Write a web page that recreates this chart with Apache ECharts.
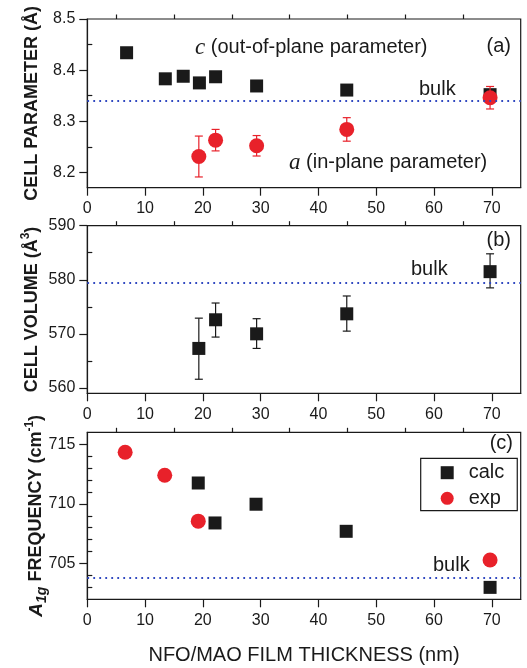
<!DOCTYPE html>
<html>
<head>
<meta charset="utf-8">
<script src="https://cdn.jsdelivr.net/npm/echarts@6/dist/echarts.min.js"></script>
<style>
  html, body { margin: 0; padding: 0; background: #fff; }
  #chart { width: 527px; height: 668px; }
</style>
</head>
<body>
<div id="chart"></div>
<script>
// ---------- data ----------
// panel (a): cell parameters
const cThickness = [6.8, 13.5, 16.6, 19.4, 22.2, 29.3, 44.9, 69.7];
const cParam = [8.434, 8.383, 8.388, 8.375, 8.387, 8.369, 8.361, 8.352];
const aThickness = [19.3, 22.2, 29.3, 44.9, 69.7];
const aParam = [8.231, 8.263, 8.252, 8.284, 8.346];
const aErr = [0.040, 0.021, 0.020, 0.023, 0.022];
const bulkParam = 8.341;
// panel (b): cell volume
const vThickness = [19.3, 22.2, 29.3, 44.9, 69.7];
const volume = [567.3, 572.6, 570.0, 573.7, 581.5];
const volumeLow = [561.6, 569.4, 567.3, 570.5, 578.5];
const volumeHigh = [572.9, 575.7, 572.8, 577.0, 584.8];
const bulkVolume = 579.5;
// panel (c): A1g frequency
const calcThickness = [19.2, 22.1, 29.2, 44.8, 69.7];
const calcFreq = [711.75, 708.4, 709.97, 707.7, 703.0];
const expThickness = [6.55, 13.4, 19.2, 69.7];
const expFreq = [714.33, 712.4, 708.55, 705.3];
const bulkFreq = 703.8;
// ticks
const xMajorTicks = [0, 10, 20, 30, 40, 50, 60, 70];
const xMinorTicks = [5, 15, 25, 35, 45, 55, 65];
const aMajorTicks = [8.2, 8.3, 8.4, 8.5];
const aMinorTicks = [8.25, 8.35, 8.45];
const bMajorTicks = [560, 570, 580, 590];
const bMinorTicks = [565, 575, 585];
const cMajorTicks = [705, 710, 715];
const cMinorTicks = [703, 704, 706, 707, 708, 709, 711, 712, 713, 714];

// ---------- style ----------
const FONT = "'Liberation Sans', Arial, sans-serif";
const SERIF = "'Liberation Serif', 'Times New Roman', serif";
const INK = '#1a1a1a';
const RED = '#e8212a';
const BLUE = '#3048c0';

const grids = [
  { left: 87.3, top: 19, width: 433.4, height: 168.7 },
  { left: 87.3, top: 225.7, width: 433.4, height: 167.6 },
  { left: 87.3, top: 432.3, width: 433.4, height: 167 }
].map(g => Object.assign({ show: true, borderColor: INK, borderWidth: 1.2, backgroundColor: 'transparent', outerBoundsMode: 'none', containLabel: false }, g));

function xAxes(gi, withName) {
  return [
    {
      type: 'value', gridIndex: gi, min: 0, max: 75,
      axisLine: { show: true, onZero: false, lineStyle: { color: INK, width: 1.2 } },
      axisTick: { show: true, inside: false, length: 8, customValues: xMajorTicks, lineStyle: { color: INK, width: 1.2 } },
      axisLabel: { show: true, margin: 13, customValues: xMajorTicks, color: INK, fontSize: 16, fontFamily: FONT },
      splitLine: { show: false },
      name: withName ? 'NFO/MAO FILM THICKNESS (nm)' : '',
      nameLocation: 'middle', nameGap: 46, nameMoveOverlap: false,
      nameTextStyle: { color: INK, fontSize: 20, fontFamily: FONT }
    },
    {
      type: 'value', gridIndex: gi, min: 0, max: 75,
      axisLine: { show: false },
      axisTick: { show: true, inside: false, length: 4.5, customValues: xMinorTicks, lineStyle: { color: INK, width: 1.2 } },
      axisLabel: { show: false },
      splitLine: { show: false }
    }
  ];
}

function yAxes(gi, min, max, major, minor, name, gap, rich) {
  return [
    {
      type: 'value', gridIndex: gi, min: min, max: max,
      axisLine: { show: true, onZero: false, lineStyle: { color: INK, width: 1.2 } },
      axisTick: { show: true, inside: false, length: 8, customValues: major, lineStyle: { color: INK, width: 1.2 } },
      axisLabel: { show: true, margin: 12, customValues: major, color: INK, fontSize: 16, fontFamily: FONT },
      splitLine: { show: false },
      name: name, nameLocation: 'middle', nameRotate: 90, nameGap: gap, nameMoveOverlap: false,
      nameTextStyle: { color: INK, fontSize: 18, fontWeight: 'bold', fontFamily: FONT, lineHeight: 26, rich: rich }
    },
    {
      type: 'value', gridIndex: gi, min: min, max: max,
      axisLine: { show: false },
      axisTick: { show: true, inside: false, length: 5, customValues: minor, lineStyle: { color: INK, width: 1.2 } },
      axisLabel: { show: false },
      splitLine: { show: false }
    }
  ];
}

const nameRich = {
  it: { fontStyle: 'italic', fontWeight: 'bold', fontSize: 19, fontFamily: FONT, color: INK, lineHeight: 26 },
  sub: { fontStyle: 'italic', fontWeight: 'bold', fontSize: 14, fontFamily: FONT, color: INK, lineHeight: 14, verticalAlign: 'bottom' },
  sup: { fontWeight: 'bold', fontSize: 12, fontFamily: FONT, color: INK, lineHeight: 12, verticalAlign: 'top' }
};

function errorBarSeries(xi, yi, xs, lows, highs, color) {
  return {
    type: 'custom', xAxisIndex: xi, yAxisIndex: yi, z: 3, silent: true,
    data: xs.map((x, i) => [x, lows[i], highs[i]]),
    renderItem: function (params, api) {
      const x = api.value(0);
      const lo = api.coord([x, api.value(1)]);
      const hi = api.coord([x, api.value(2)]);
      const w = 4;
      const st = { stroke: color, lineWidth: 1.2 };
      return {
        type: 'group',
        children: [
          { type: 'line', shape: { x1: lo[0], y1: lo[1], x2: hi[0], y2: hi[1] }, style: st },
          { type: 'line', shape: { x1: lo[0] - w, y1: lo[1], x2: lo[0] + w, y2: lo[1] }, style: st },
          { type: 'line', shape: { x1: hi[0] - w, y1: hi[1], x2: hi[0] + w, y2: hi[1] }, style: st }
        ]
      };
    }
  };
}

function bulkLine(value) {
  return {
    silent: true, symbol: 'none', animation: false,
    label: { show: false },
    lineStyle: { color: BLUE, width: 1.8, type: [1.8, 4.2], opacity: 1 },
    emphasis: { disabled: true },
    data: [{ yAxis: value }]
  };
}

const option = {
  animation: false,
  backgroundColor: '#fff',
  textStyle: { fontFamily: FONT },
  grid: grids,
  xAxis: [].concat(xAxes(0, false), xAxes(1, false), xAxes(2, true)),
  yAxis: [].concat(
    yAxes(0, 8.17, 8.5, aMajorTicks, aMinorTicks, 'CELL PARAMETER (Å)', 42, nameRich),
    yAxes(1, 559, 590, bMajorTicks, bMinorTicks, 'CELL VOLUME (Å{sup|3})', 42, nameRich),
    yAxes(2, 702, 716, cMajorTicks, cMinorTicks, '{it|A}{sub|1g} FREQUENCY (cm{sup|-1})', 38, nameRich)
  ),
  legend: {
    show: true, orient: 'vertical',
    left: 420.7, top: 458.3,
    data: [{ name: 'calc', icon: 'rect' }, { name: 'exp', icon: 'circle' }],
    itemWidth: 13, itemHeight: 13, itemGap: 5.6,
    padding: [4.4, 13, 2.4, 20],
    borderColor: INK, borderWidth: 1.2, borderRadius: 0,
    selectedMode: false,
    textStyle: { color: INK, fontSize: 20, fontFamily: FONT, lineHeight: 20, padding: [0, 0, 0, 10] }
  },
  series: [
    // panel (a)
    {
      name: 'c parameter', type: 'scatter', xAxisIndex: 0, yAxisIndex: 0, z: 2,
      symbol: 'rect', symbolSize: 13, itemStyle: { color: INK, opacity: 1 },
      data: cThickness.map((x, i) => [x, cParam[i]]),
      markLine: bulkLine(bulkParam)
    },
    errorBarSeries(0, 0, aThickness, aParam.map((v, i) => v - aErr[i]), aParam.map((v, i) => v + aErr[i]), RED),
    {
      name: 'a parameter', type: 'scatter', xAxisIndex: 0, yAxisIndex: 0, z: 4,
      symbol: 'circle', symbolSize: 15, itemStyle: { color: RED, opacity: 1 },
      data: aThickness.map((x, i) => [x, aParam[i]])
    },
    // panel (b)
    errorBarSeries(2, 2, vThickness, volumeLow, volumeHigh, INK),
    {
      name: 'volume', type: 'scatter', xAxisIndex: 2, yAxisIndex: 2, z: 4,
      symbol: 'rect', symbolSize: 13, itemStyle: { color: INK, opacity: 1 },
      data: vThickness.map((x, i) => [x, volume[i]]),
      markLine: bulkLine(bulkVolume)
    },
    // panel (c)
    {
      name: 'calc', type: 'scatter', xAxisIndex: 4, yAxisIndex: 4, z: 2,
      symbol: 'rect', symbolSize: 13, itemStyle: { color: INK, opacity: 1 },
      data: calcThickness.map((x, i) => [x, calcFreq[i]]),
      markLine: bulkLine(bulkFreq)
    },
    {
      name: 'exp', type: 'scatter', xAxisIndex: 4, yAxisIndex: 4, z: 4,
      symbol: 'circle', symbolSize: 15, itemStyle: { color: RED, opacity: 1 },
      data: expThickness.map((x, i) => [x, expFreq[i]])
    }
  ],
  graphic: [
    { type: 'text', left: 195, top: 36, style: { text: '{i|c} (out-of-plane parameter)', fill: INK, font: '20px ' + FONT, rich: { i: { fontFamily: SERIF, fontStyle: 'italic', fontSize: 23, fill: INK } } } },
    { type: 'text', right: 16, top: 36, style: { text: '(a)', fill: INK, font: '20px ' + FONT } },
    { type: 'text', left: 419, top: 79, style: { text: 'bulk', fill: INK, font: '20px ' + FONT } },
    { type: 'text', left: 289, top: 151, style: { text: '{i|a} (in-plane parameter)', fill: INK, font: '20px ' + FONT, rich: { i: { fontFamily: SERIF, fontStyle: 'italic', fontSize: 23, fill: INK } } } },
    { type: 'text', right: 16, top: 230, style: { text: '(b)', fill: INK, font: '20px ' + FONT } },
    { type: 'text', left: 411, top: 259, style: { text: 'bulk', fill: INK, font: '20px ' + FONT } },
    { type: 'text', right: 14, top: 433, style: { text: '(c)', fill: INK, font: '20px ' + FONT } },
    { type: 'text', left: 433, top: 555, style: { text: 'bulk', fill: INK, font: '20px ' + FONT } }
  ]
};

const chart = echarts.init(document.getElementById('chart'), null, { renderer: 'canvas' });
chart.setOption(option);
</script>
</body>
</html>
